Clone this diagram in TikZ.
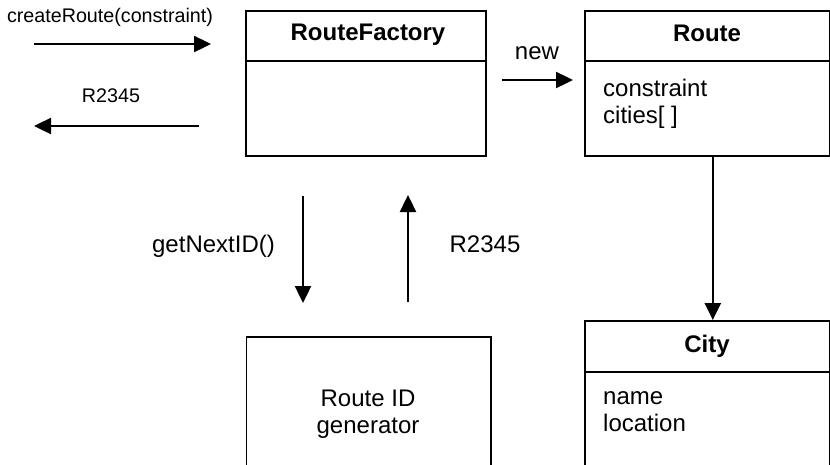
\documentclass[tikz,border=0pt]{standalone}
\usepackage{fontspec}
\setmainfont{Liberation Sans}
\usetikzlibrary{arrows.meta}
\begin{document}
\begin{tikzpicture}[x=1pt,y=-1pt,
  box/.style={draw=black,line width=1.6pt,anchor=north west,inner sep=0pt},
  ttl/.style={font=\fontsize{24}{27}\bfseries\selectfont,anchor=base,inner sep=0pt},
  txt/.style={font=\fontsize{24}{27}\selectfont,anchor=base,inner sep=0pt},
  fld/.style={font=\fontsize{24}{27}\selectfont,anchor=base west,inner sep=0pt},
  small/.style={font=\fontsize{19.7}{23}\selectfont,anchor=base,inner sep=0pt},
  arr/.style={line width=2.4pt,-{Triangle[length=17pt,width=16pt]}}]
\useasboundingbox (0,0) rectangle (830,464);
\clip (0,0) rectangle (830,464);
% boxes
\node[box,minimum width=240pt,minimum height=145pt] (rf) at (245,10) {};
\node[box,minimum width=245pt,minimum height=145pt] (rt) at (584,10) {};
\node[box,minimum width=245pt,minimum height=170pt] (city) at (584,320) {};
\node[box,minimum width=244.5pt,minimum height=156pt] (gen) at (245.5,336) {};
% dividers
\draw[line width=1.6pt] ([yshift=-51pt]rf.north west) -- ([yshift=-51pt]rf.north east);
\draw[line width=1.6pt] ([yshift=-51pt]rt.north west) -- ([yshift=-51pt]rt.north east);
\draw[line width=1.6pt] ([yshift=-52pt]city.north west) -- ([yshift=-52pt]city.north east);
% titles and fields
\node[ttl] (rft) at (368,40) {RouteFactory};
\node[ttl] (rtt) at (707,41) {Route};
\node[fld] (f1) at (603,96.5) {constraint};
\node[fld] (f2) at (603,123.5) {cities[ ]};
\node[ttl] (ct) at (707,352) {City};
\node[fld] (f3) at (603,404) {name};
\node[fld] (f4) at (603,431) {location};
\node[txt] (g1) at (368,406.5) {Route ID};
\node[txt] (g2) at (368,433.5) {generator};
% labels
\node[small] (lc) at (110,22) {createRoute(constraint)};
\node[small] (lr) at (111,102.5) {R2345};
\node[txt] (ln) at (537,59) {new};
\node[txt] (lg) at (213.5,252.5) {getNextID()};
\node[txt] (lr2) at (485,252.5) {R2345};
% arrow end points
\coordinate (a1) at (34,44);   \coordinate (a2) at (211,44);
\coordinate (b1) at (199,126); \coordinate (b2) at (34,126);
\coordinate (n1) at (502,80);  \coordinate (n2) at (573,80);
\coordinate (d1) at (303,196); \coordinate (d2) at (303,303);
\coordinate (u1) at (408,302); \coordinate (u2) at (408,195);
\draw[arr] (a1) -- (a2);
\draw[arr] (b1) -- (b2);
\draw[arr] (n1) -- (n2);
\draw[arr] (d1) -- (d2);
\draw[arr] (u1) -- (u2);
\draw[arr] ([xshift=5.5pt]rt.south) -- ([xshift=5.5pt]city.north);
\end{tikzpicture}
\end{document}
